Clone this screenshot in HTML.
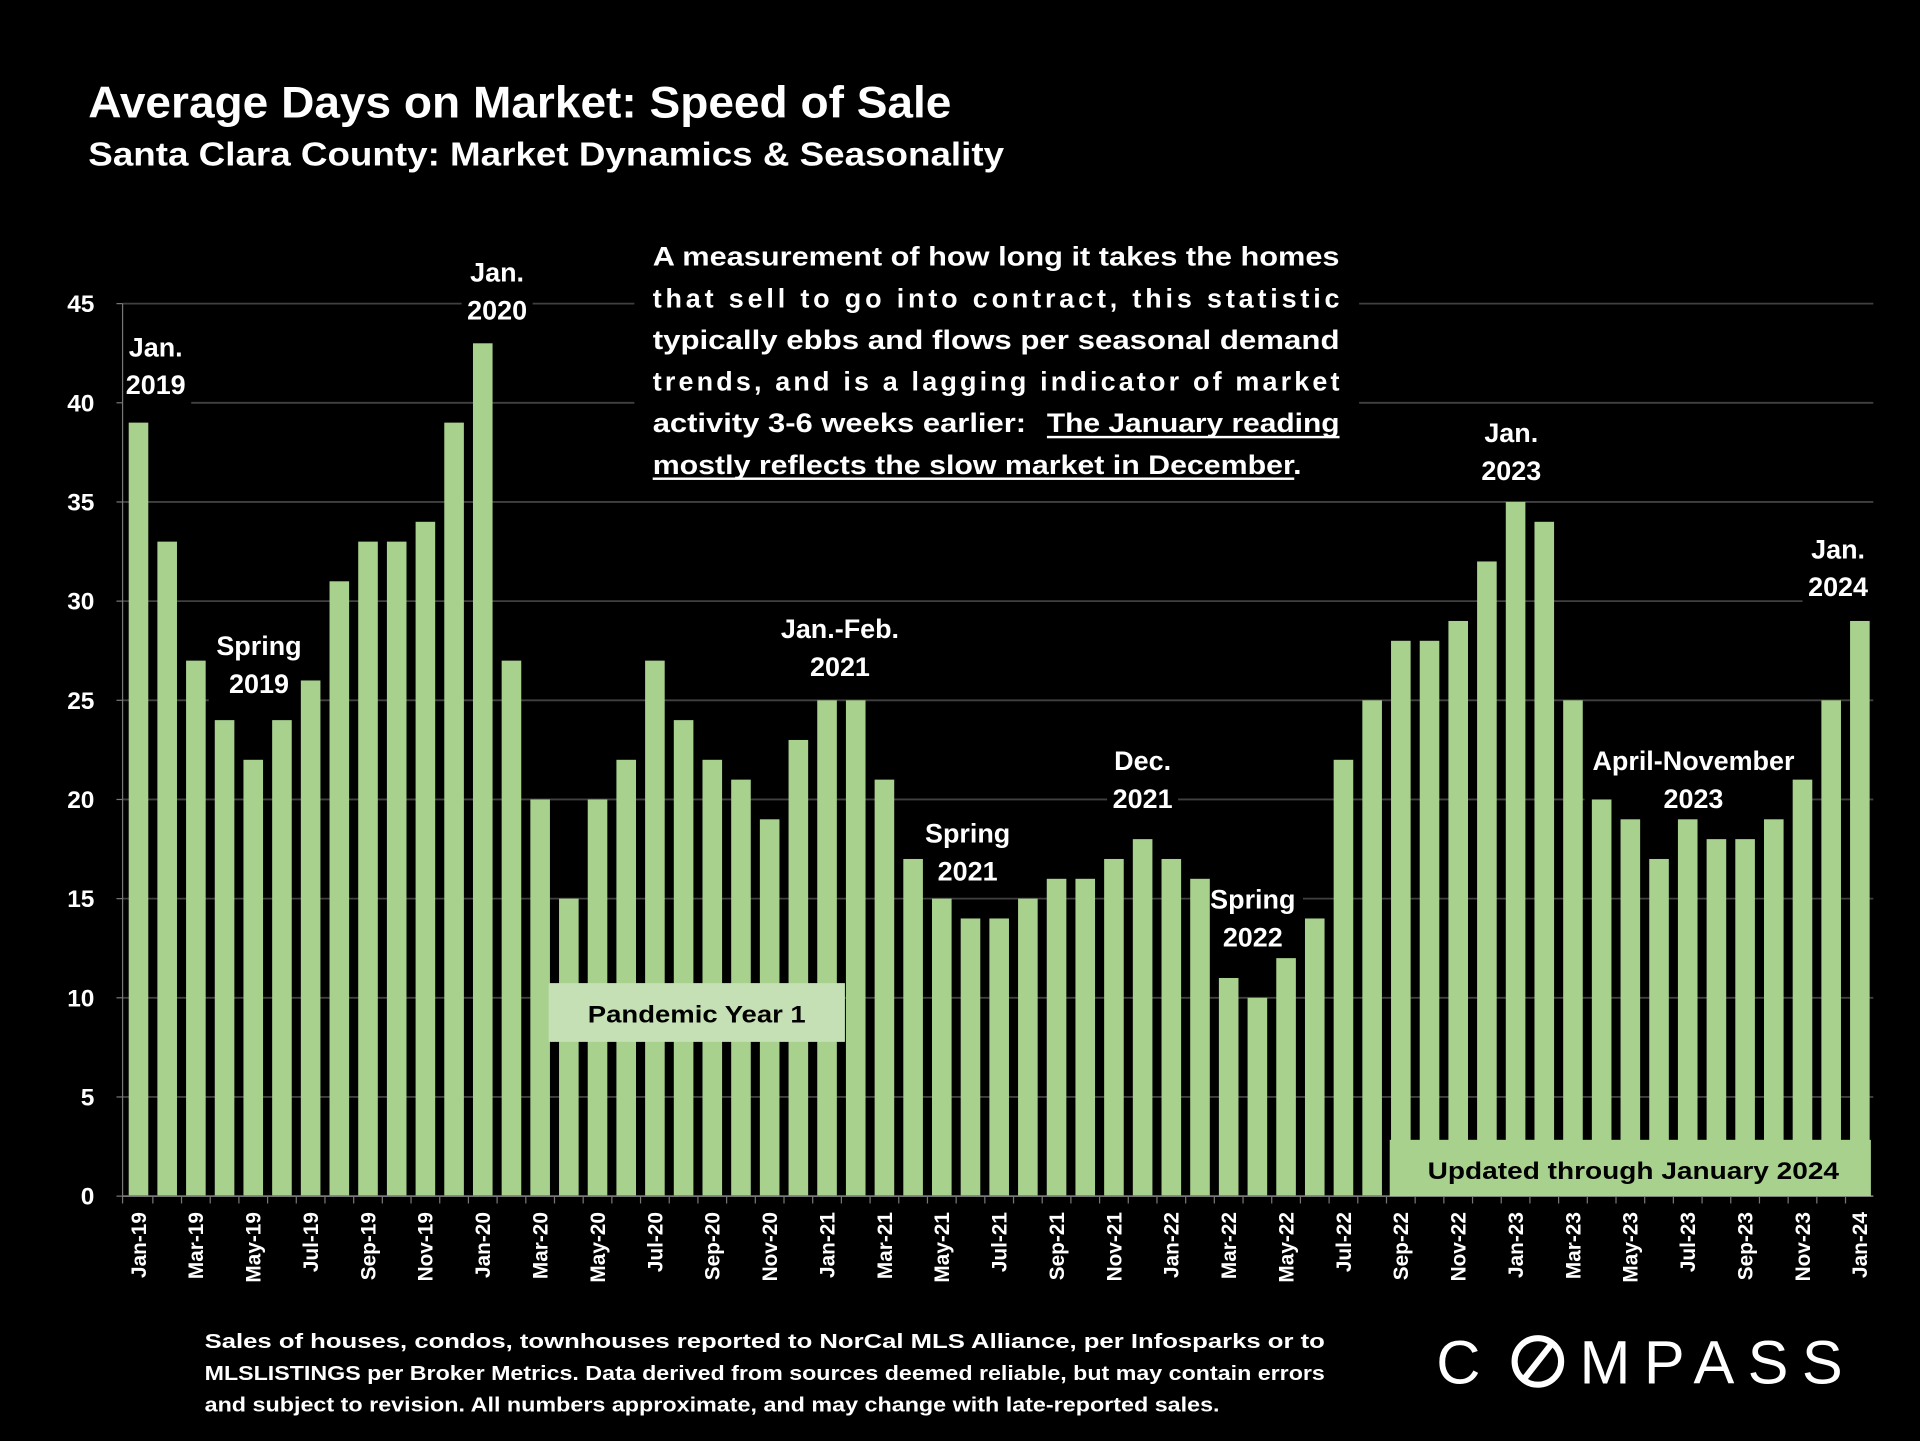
<!DOCTYPE html>
<html><head><meta charset="utf-8">
<style>
html,body{margin:0;padding:0;background:#000;}
svg{display:block;}
text{font-family:"Liberation Sans",sans-serif;font-weight:bold;}
</style></head>
<body>
<svg id="chart" width="1920" height="1441" viewBox="0 0 1568 1177" xmlns="http://www.w3.org/2000/svg">
<rect x="0" y="0" width="1568" height="1177" fill="#000"/>
<text x="72" y="96" font-size="36" fill="#fff" textLength="705" lengthAdjust="spacingAndGlyphs">Average Days on Market: Speed of Sale</text>
<text x="72" y="135" font-size="27" fill="#fff" textLength="748" lengthAdjust="spacingAndGlyphs">Santa Clara County: Market Dynamics &amp; Seasonality</text>
<g id="grid"></g>
<g id="labelbg"></g>
<rect x="518" y="190" width="592" height="210" fill="#000"/>
<g id="bars"></g>
<g id="xaxis"></g>
<g id="yaxis"></g>
<g id="labels"></g>
<g>
<text x="533" y="217" font-size="22" fill="#fff" textLength="561" lengthAdjust="spacingAndGlyphs">A measurement of how long it takes the homes</text>
<text x="533" y="251" font-size="22" fill="#fff" textLength="561" lengthAdjust="spacing">that sell to go into contract, this statistic</text>
<text x="533" y="285" font-size="22" fill="#fff" textLength="561" lengthAdjust="spacingAndGlyphs">typically ebbs and flows per seasonal demand</text>
<text x="533" y="319" font-size="22" fill="#fff" textLength="561" lengthAdjust="spacing">trends, and is a lagging indicator of market</text>
<text x="533" y="353" font-size="22" fill="#fff" textLength="305" lengthAdjust="spacingAndGlyphs">activity 3-6 weeks earlier:</text>
<text x="855" y="353" font-size="22" fill="#fff" textLength="239" lengthAdjust="spacingAndGlyphs">The January reading</text>
<text x="533" y="387" font-size="22" fill="#fff" textLength="530" lengthAdjust="spacingAndGlyphs">mostly reflects the slow market in December.</text>
<rect x="855" y="356" width="239" height="2" fill="#fff"/>
<rect x="533" y="390" width="524" height="2" fill="#fff"/>
</g>
<g>
<rect x="448" y="803" width="242" height="48" fill="#c5e0b4"/>
<text x="569" y="835" font-size="20" fill="#000" text-anchor="middle" textLength="178" lengthAdjust="spacingAndGlyphs">Pandemic Year 1</text>
</g>
<g>
<rect x="1135" y="931" width="393" height="46" fill="#a9d18e"/>
<text x="1334" y="963" font-size="20" fill="#000" text-anchor="middle" textLength="336" lengthAdjust="spacingAndGlyphs">Updated through January 2024</text>
</g>
<g>
<text x="167" y="1101" font-size="16.5" fill="#fff" textLength="915" lengthAdjust="spacingAndGlyphs">Sales of houses, condos, townhouses reported to NorCal MLS Alliance, per Infosparks or to</text>
<text x="167" y="1127" font-size="16.5" fill="#fff" textLength="915" lengthAdjust="spacingAndGlyphs">MLSLISTINGS per Broker Metrics. Data derived from sources deemed reliable, but may contain errors</text>
<text x="167" y="1153" font-size="16.5" fill="#fff" textLength="829" lengthAdjust="spacingAndGlyphs">and subject to revision. All numbers approximate, and may change with late-reported sales.</text>
</g>
<g>
<text x="1173" y="1130" font-size="50" fill="#fff" style="font-weight:normal">C</text>
<circle cx="1256" cy="1112" r="19" fill="none" stroke="#fff" stroke-width="5"/>
<line x1="1245" y1="1126" x2="1267" y2="1098" stroke="#fff" stroke-width="5"/>
<text x="1290" y="1130" font-size="50" fill="#fff" style="font-weight:normal" textLength="215" lengthAdjust="spacing">MPASS</text>
</g>
</svg>
<script>
const months = ["Jan","Feb","Mar","Apr","May","Jun","Jul","Aug","Sep","Oct","Nov","Dec"];
const startYear = 19;
const values2019 = [39,33,27,24,22,24,26,31,33,33,34,39];
const values2020 = [43,27,20,15,20,22,27,24,22,21,19,23];
const values2021 = [25,25,21,17,15,14,14,15,16,16,17,18];
const values2022 = [17,16,11,10,12,14,22,25,28,28,29,32];
const values2023 = [35,34,25,20,19,17,19,18,18,19,21,25];
const values2024 = [29];
const yTicks = [0,5,10,15,20,25,30,35,40,45];
const annotations = [
 {i:0.6, lines:["Jan.","2019"], y:283},
 {i:12.5, lines:["Jan.","2020"], y:222},
 {i:4.2, lines:["Spring","2019"], y:527},
 {i:24.45, lines:["Jan.-Feb.","2021"], y:513},
 {i:28.9, lines:["Spring","2021"], y:680},
 {i:35, lines:["Dec.","2021"], y:621},
 {i:38.84, lines:["Spring","2022"], y:734},
 {i:47.85, lines:["Jan.","2023"], y:353},
 {i:59.24, lines:["Jan.","2024"], y:448},
 {i:54.2, lines:["April-November","2023"], y:621}
];
const values = [].concat(values2019,values2020,values2021,values2022,values2023,values2024);
const NS="http://www.w3.org/2000/svg";
const x0=113, step=(1519-113)/60, barW=16;
const yBase=977, yTop=248, yMax=45;
function xScale(i){return x0+i*step;}
function yScale(v){return yBase-(v/yMax)*(yBase-yTop);}
function mk(tag,attrs,parent){const e=document.createElementNS(NS,tag);for(const k in attrs)e.setAttribute(k,attrs[k]);parent.appendChild(e);return e;}
const grid=document.getElementById('grid'), bars=document.getElementById('bars'), xa=document.getElementById('xaxis'), ya=document.getElementById('yaxis'), lab=document.getElementById('labels'), lbg=document.getElementById('labelbg');
yTicks.forEach(t=>{
  const y=yScale(t);
  if(t>0){const l=mk('line',{x1:100,x2:1530,y1:y,y2:y,stroke:'#404040','stroke-width':1.5},grid);
  
  }
  mk('line',{x1:95,x2:100,y1:y,y2:y,stroke:'#777','stroke-width':1},ya);
  const tx=mk('text',{x:77,y:y+7,'font-size':20,fill:'#fff','text-anchor':'end'},ya);
  tx.textContent=t;
  
  
});
mk('line',{x1:100,x2:100,y1:yTop,y2:yBase,stroke:'#777','stroke-width':1},ya);
mk('line',{x1:100,x2:1530,y1:yBase,y2:yBase,stroke:'#777','stroke-width':1.5},xa);
values.forEach((v,i)=>{
  const cx=xScale(i);
  const r=mk('rect',{x:cx-barW/2,y:yScale(v),width:barW,height:yBase-yScale(v),fill:'#a9d18e'},bars);
  
  
  const tx2=xScale(i)+step/2;
  if(i<values.length-1) mk('line',{x1:tx2,x2:tx2,y1:yBase,y2:yBase+6,stroke:'#777','stroke-width':1},xa);
  if(i%2===0){
    const lbl=months[i%12]+'-'+(startYear+Math.floor(i/12));
    const t=mk('text',{x:0,y:0,'font-size':17,fill:'#fff','text-anchor':'end',transform:`translate(${cx+6},${yBase+13}) rotate(-90)`},xa);
    t.textContent=lbl;
    
    
  }
});
mk('line',{x1:100,x2:100,y1:yBase,y2:yBase+6,stroke:'#777'},xa);
annotations.forEach(a=>{
  const cx=xScale(a.i);
  const w=Math.max(...a.lines.map(s=>s.length))*12+10;
  mk('rect',{x:cx-w/2,y:a.y-18,width:w,height:a.lines.length*31+4,fill:'#000'},lbg);
  const g=mk('g',{},lab);
  
  
  a.lines.forEach((s,k)=>{
    const t=mk('text',{x:cx,y:a.y+8+k*31,'font-size':22,fill:'#fff','text-anchor':'middle'},g);
    t.textContent=s;
  });
});
</script>
</body></html>
